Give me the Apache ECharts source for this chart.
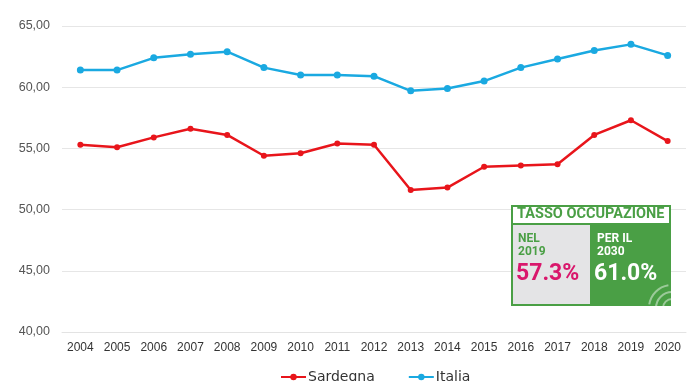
<!DOCTYPE html>
<html>
<head>
<meta charset="utf-8">
<script src="https://cdn.jsdelivr.net/npm/echarts@6/dist/echarts.min.js"></script>
<style>
  html, body { margin: 0; padding: 0; background: #fff; }
  #chart { width: 687px; height: 381px; }
</style>
</head>
<body>
<div id="chart"></div>
<script>
const years = ['2004', '2005', '2006', '2007', '2008', '2009', '2010', '2011', '2012',
               '2013', '2014', '2015', '2016', '2017', '2018', '2019', '2020'];
const sardegna = [55.3, 55.1, 55.9, 56.6, 56.1, 54.4, 54.6, 55.4, 55.3,
                  51.6, 51.8, 53.5, 53.6, 53.7, 56.1, 57.3, 55.6];
const italia = [61.4, 61.4, 62.4, 62.7, 62.9, 61.6, 61.0, 61.0, 60.9,
                59.7, 59.9, 60.5, 61.6, 62.3, 63.0, 63.5, 62.6];
const boxTitle = 'TASSO OCCUPAZIONE';
const boxLeft = ['NEL', '2019', '57.3%'];
const boxRight = ['PER IL', '2030', '61.0%'];

const chart = echarts.init(document.getElementById('chart'));
const green = '#4a9f45';
const font = 'Roboto';

let option = {
    animation: false,
    grid: { left: 62, right: 1, top: 26, bottom: 49 },
    legend: {
        bottom: -8,
        left: 275,
        itemWidth: 25,
        itemHeight: 8,
        itemGap: 33,
        textStyle: { fontSize: 14, color: '#333', fontFamily: 'DejaVu Sans', padding: [0, 0, 0, -3] },
        data: ['Sardegna', 'Italia']
    },
    xAxis: {
        type: 'category',
        data: years,
        axisLine: { lineStyle: { color: '#e3e3e3' } },
        axisTick: { show: false },
        axisLabel: { color: '#333', fontSize: 12, fontFamily: 'Liberation Sans', margin: 10 }
    },
    yAxis: {
        type: 'value',
        min: 40, max: 65, interval: 5,
        axisLine: { show: false },
        axisTick: { show: false },
        splitLine: { lineStyle: { color: '#e6e6e6' } },
        axisLabel: {
            color: '#555', fontSize: 12.5, fontFamily: 'Liberation Sans', margin: 12,
            formatter: v => v.toFixed(2).replace('.', ',')
        }
    },
    series: [
        {
            name: 'Sardegna', type: 'line', data: sardegna,
            symbol: 'circle', symbolSize: 6,
            itemStyle: { color: '#e8151b' },
            lineStyle: { width: 2.5, color: '#e8151b' }
        },
        {
            name: 'Italia', type: 'line', data: italia,
            symbol: 'circle', symbolSize: 7,
            itemStyle: { color: '#1aa9e1' },
            lineStyle: { width: 2.5, color: '#1aa9e1' }
        }
    ],
    graphic: [
        { type: 'rect', z: 100, shape: { x: 512, y: 206, width: 158, height: 99 },
          style: { fill: '#e4e4e6', stroke: green, lineWidth: 2 } },
        { type: 'rect', z: 101, shape: { x: 590, y: 224, width: 80, height: 81 },
          style: { fill: green } },
        { type: 'rect', z: 101, shape: { x: 512, y: 206, width: 158, height: 18 },
          style: { fill: '#fff', stroke: green, lineWidth: 2 } },
        { type: 'arc', z: 102, shape: { cx: 672, cy: 308, r: 9, startAngle: Math.PI, endAngle: Math.PI * 1.5 },
          style: { stroke: 'rgba(255,255,255,0.45)', lineWidth: 2, fill: null } },
        { type: 'arc', z: 102, shape: { cx: 672, cy: 308, r: 16, startAngle: Math.PI, endAngle: Math.PI * 1.5 },
          style: { stroke: 'rgba(255,255,255,0.45)', lineWidth: 2, fill: null } },
        { type: 'arc', z: 102, shape: { cx: 672, cy: 308, r: 23, startAngle: Math.PI * 1.05, endAngle: Math.PI * 1.45 },
          style: { stroke: 'rgba(255,255,255,0.45)', lineWidth: 2, fill: null } },
        { type: 'text', z: 103, left: 517, top: 207,
          style: { text: boxTitle, fill: green, font: 'bold 14.5px ' + font } },
        { type: 'text', z: 103, left: 518, top: 233,
          style: { text: boxLeft[0] + '\n' + boxLeft[1], fill: green, font: 'bold 12px ' + font, lineHeight: 12.5 } },
        { type: 'text', z: 103, left: 516, top: 263,
          style: { text: boxLeft[2], fill: '#d9176c', font: 'bold 23px ' + font } },
        { type: 'text', z: 103, left: 597, top: 233,
          style: { text: boxRight[0] + '\n' + boxRight[1], fill: '#fff', font: 'bold 12px ' + font, lineHeight: 12.5 } },
        { type: 'text', z: 103, left: 594, top: 263,
          style: { text: boxRight[2], fill: '#fff', font: 'bold 23px ' + font } }
    ]
};

option && chart.setOption(option);
</script>
</body>
</html>
